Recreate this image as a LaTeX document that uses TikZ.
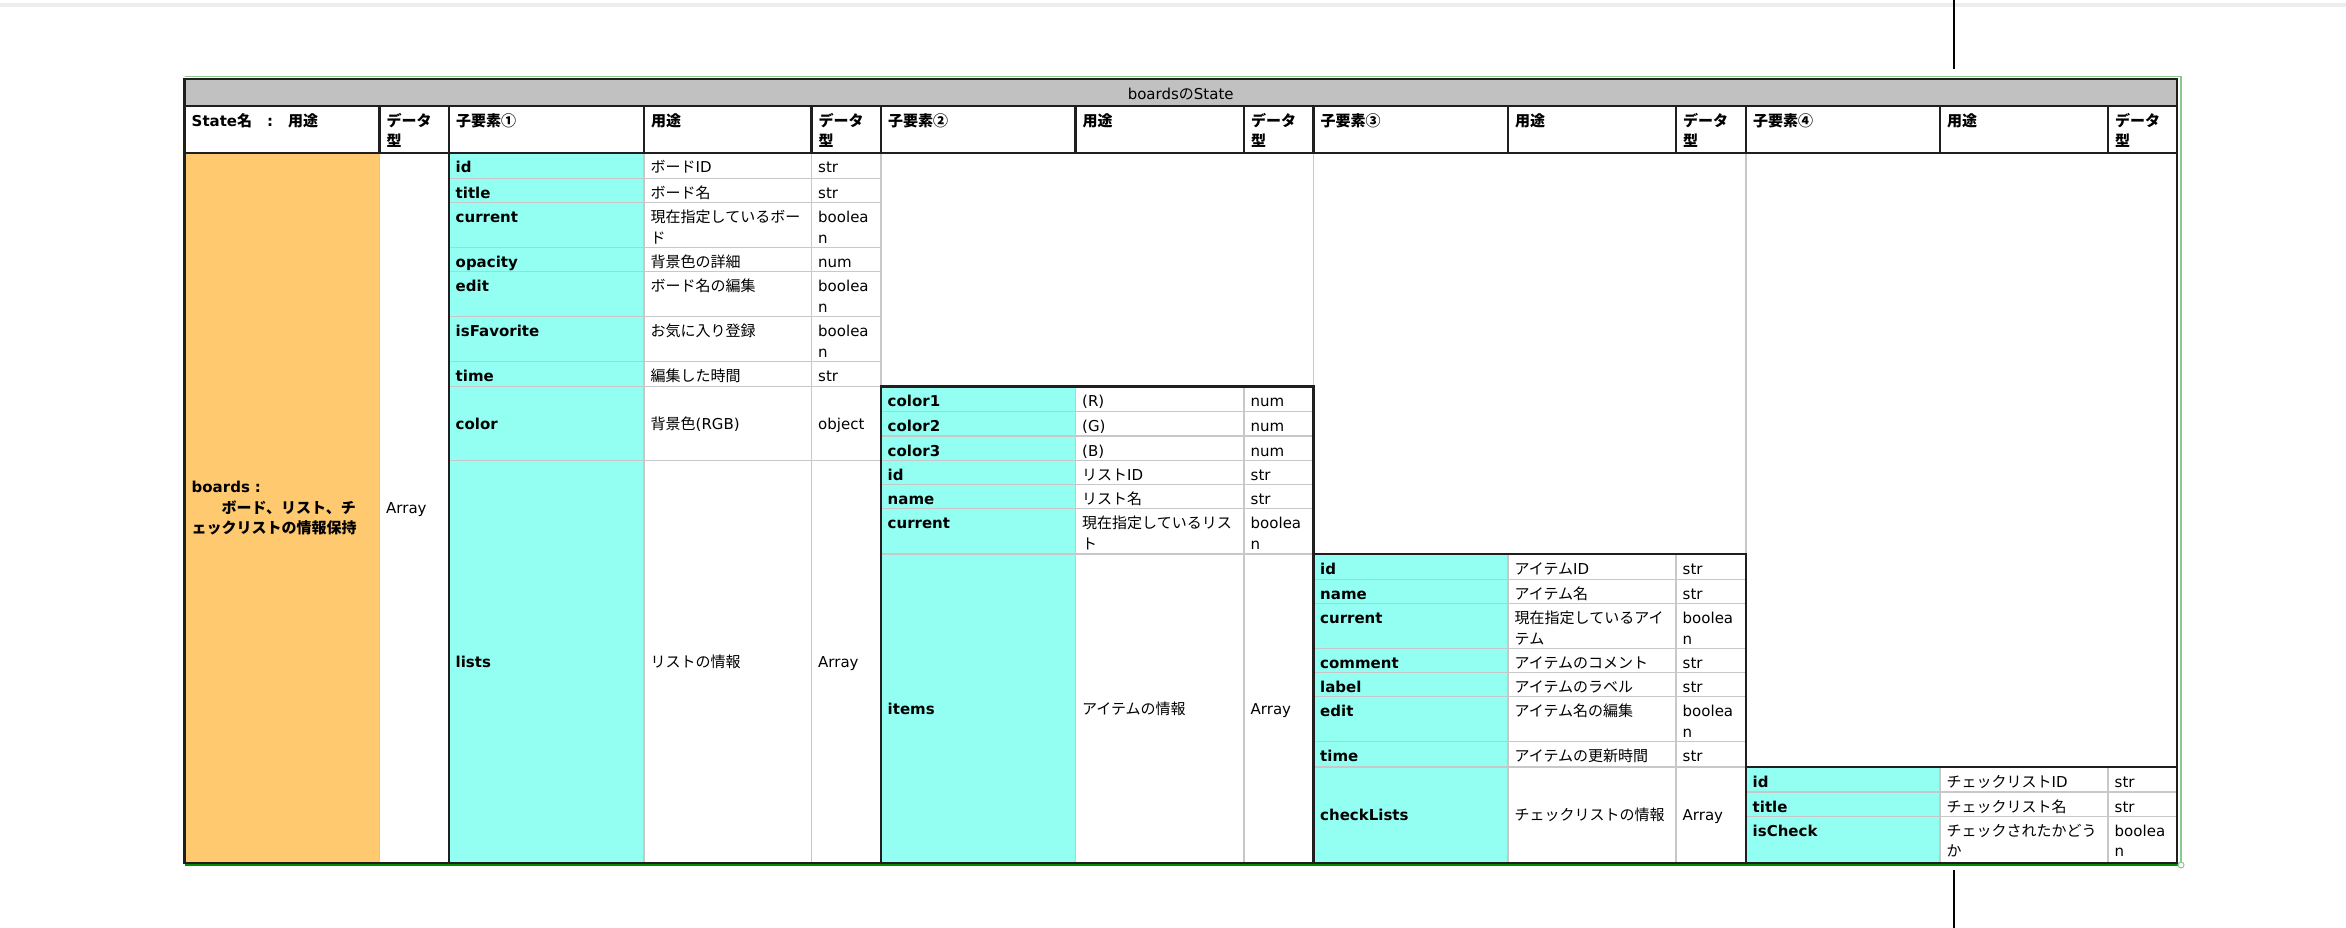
\documentclass[tikz,border=0pt]{standalone}
\usepackage{fontspec}
\setmainfont{DejaVu Sans}
\newfontfamily\jpfont{Noto Sans CJK JP}
% Japanese characters are set in the CJK font, the rest in DejaVu Sans
\newXeTeXintercharclass\jpclass
\newcount\jpcode
\newcommand\jprange[2]{%
  \jpcode=#1\relax
  \loop
    \XeTeXcharclass\jpcode=\jpclass
  \ifnum\jpcode<#2\relax
    \advance\jpcode by 1
  \repeat}
\jprange{"2460}{"24FF}
\jprange{"3000}{"30FF}
\jprange{"4E00}{"9FFF}
\jprange{"FF00}{"FFEF}
\XeTeXinterchartoks 0 \jpclass = {\jpfont}
\XeTeXinterchartoks 4095 \jpclass = {\jpfont}
\XeTeXinterchartoks \jpclass 0 = {\rmfamily}
\XeTeXinterchartoks \jpclass 4095 = {\rmfamily}
\XeTeXinterchartokenstate=1

\definecolor{headgray}{HTML}{C0C1C0}
\definecolor{boardorange}{HTML}{FFC970}
\definecolor{keycyan}{HTML}{93FFF2}
\definecolor{cellline}{HTML}{C8C8C8}
\definecolor{selgreen}{HTML}{8CC88C}
\newcommand\cellstrut{\rule[-3pt]{0pt}{20.3pt}}

\begin{document}
\begin{tikzpicture}[x=1pt, y=-1pt,
    every node/.style={inner sep=0pt, text width=185pt, align=left,
      font=\fontsize{15}{20.3}\selectfont,
      execute at begin node={\baselineskip=20.3pt\lineskip=0pt\cellstrut},
      execute at end node=\cellstrut},
    cell/.style={anchor=north west},
    key/.style={cell, font=\fontsize{15}{20.3}\selectfont\bfseries},
    head/.style={anchor=north west, font=\fontsize{15}{20.3}\selectfont\bfseries},
    thin line/.style={draw=cellline, line width=1.1pt},
    thick line/.style={draw=black!88, line width=2.2pt}]
  \useasboundingbox (0,0) rectangle (2346,928);
  \draw[black!7, line width=4pt] (0,5) -- (2346,5);
  \draw[black, line width=2pt] (1954,0) -- (1954,69);
  \draw[black, line width=2pt] (1954,870) -- (1954,928);

  % fills
  \fill[headgray] (184.5,79.3) rectangle (2177,106);
  \fill[boardorange] (184.5,152.7) rectangle (379.5,862.7);
  \fill[keycyan] (449,152.7) rectangle (644,862.7);
  \fill[keycyan] (881,386.5) rectangle (1075.5,862.7);
  \fill[keycyan] (1313.5,554) rectangle (1508,862.7);
  \fill[keycyan] (1746,767) rectangle (1940,862.7);

  % selection frame
  \draw[selgreen, line width=1.5pt] (184.5,76.7) -- (2181,76.7) -- (2181,865);
  \draw[green!55!black, line width=1.3pt] (184.5,865) -- (2181,865);

  % thin column lines
  \draw[thin line] (379.5,152.7) -- (379.5,862.7);
  \draw[thin line] (644,152.7) -- (644,862.7);
  \draw[thin line] (811.5,152.7) -- (811.5,862.7);
  \draw[thin line] (881,152.7) -- (881,386.5);
  \draw[thin line] (1075.5,386.5) -- (1075.5,862.7);
  \draw[thin line] (1244,386.5) -- (1244,862.7);
  \draw[thin line] (1313.5,152.7) -- (1313.5,554);
  \draw[thin line] (1508,554) -- (1508,862.7);
  \draw[thin line] (1676,554) -- (1676,862.7);
  \draw[thin line] (1746,152.7) -- (1746,767);
  \draw[thin line] (1940,767) -- (1940,862.7);
  \draw[thin line] (2108,767) -- (2108,862.7);

  \node[anchor=north, align=center] (title) at (1180.7,81.7) {boardsのState};
  \foreach \hx/\htext [count=\i] in {191.5/State名　:　用途, 386.5/データ\\型,
      456/子要素①, 651/用途, 818.5/データ\\型, 888/子要素②, 1082.5/用途, 1251/データ\\型,
      1320.5/子要素③, 1515/用途, 1683/データ\\型, 1753/子要素④, 1947/用途, 2115/データ\\型}
    \node[head] (head-\i) at (\hx,108.6) {\htext};

  \node[key] (board-name) at (191.5,475.4) {boards :\\　　ボード、リスト、チ\\ェックリストの情報保持};
  \node[cell] (board-type) at (386,496.1) {Array};

  % children 1
  \foreach \kname/\kuse/\ktype/\rbot [count=\i, remember=\rbot as \rtop (initially 152.7)] in {
      id/ボードID/str/178.3, title/ボード名/str/202.7,
      current/現在指定しているボー\\ド/boolea\\n/247.3, opacity/背景色の詳細/num/271.7,
      edit/ボード名の編集/boolea\\n/316.7, isFavorite/お気に入り登録/boolea\\n/361.7,
      time/編集した時間/str/386.5, color/背景色(RGB)/object/460.5, lists/リストの情報/Array/862.7} {
    \pgfmathsetmacro\ny{(\rbot-\rtop>50) ? (\rtop+\rbot)/2-11.6 : \rtop+2.6}
    \draw[thin line] (449,\rbot) -- (881,\rbot);
    \node[key] (one-key-\i) at (455.5,\ny) {\kname};
    \node[cell] (one-use-\i) at (650.5,\ny) {\kuse};
    \node[cell] (one-type-\i) at (818,\ny) {\ktype};
  }
  % children 2
  \foreach \kname/\kuse/\ktype/\rbot [count=\i, remember=\rbot as \rtop (initially 386.5)] in {
      color1/(R)/num/411.7, color2/(G)/num/436, color3/(B)/num/460.5,
      id/リストID/str/484.3, name/リスト名/str/508.7,
      current/現在指定しているリス\\ト/boolea\\n/554, items/アイテムの情報/Array/862.7} {
    \pgfmathsetmacro\ny{(\rbot-\rtop>50) ? (\rtop+\rbot)/2-11.6 : \rtop+2.6}
    \draw[thin line] (881,\rbot) -- (1313.5,\rbot);
    \node[key] (two-key-\i) at (887.5,\ny) {\kname};
    \node[cell] (two-use-\i) at (1082,\ny) {\kuse};
    \node[cell] (two-type-\i) at (1250.5,\ny) {\ktype};
  }
  % children 3
  \foreach \kname/\kuse/\ktype/\rbot [count=\i, remember=\rbot as \rtop (initially 554)] in {
      id/アイテムID/str/579.3, name/アイテム名/str/603.7,
      current/現在指定しているアイ\\テム/boolea\\n/648.3, comment/アイテムのコメント/str/672.7,
      label/アイテムのラベル/str/696.7, edit/アイテム名の編集/boolea\\n/741.7,
      time/アイテムの更新時間/str/767, checkLists/チェックリストの情報/Array/862.7} {
    \pgfmathsetmacro\ny{(\rbot-\rtop>50) ? (\rtop+\rbot)/2-11.6 : \rtop+2.6}
    \draw[thin line] (1313.5,\rbot) -- (1746,\rbot);
    \node[key] (three-key-\i) at (1320,\ny) {\kname};
    \node[cell] (three-use-\i) at (1514.5,\ny) {\kuse};
    \node[cell] (three-type-\i) at (1682.5,\ny) {\ktype};
  }
  % children 4
  \foreach \kname/\kuse/\ktype/\rbot [count=\i, remember=\rbot as \rtop (initially 767)] in {
      id/チェックリストID/str/792, title/チェックリスト名/str/816.3,
      isCheck/チェックされたかどう\\か/boolea\\n/862.7} {
    \pgfmathsetmacro\ny{(\rbot-\rtop>50) ? (\rtop+\rbot)/2-11.6 : \rtop+2.6}
    \draw[thin line] (1746,\rbot) -- (2177,\rbot);
    \node[key] (four-key-\i) at (1752.5,\ny) {\kname};
    \node[cell] (four-use-\i) at (1946.5,\ny) {\kuse};
    \node[cell] (four-type-\i) at (2114.5,\ny) {\ktype};
  }

  % thick frame lines
  \draw[thick line] (184.5,79.3) rectangle (2177,862.7);
  \draw[thick line] (184.5,106) -- (2177,106);
  \draw[thick line] (184.5,152.7) -- (2177,152.7);
  \foreach \hx in {379.5,449,644,811.5,881,1075.5,1244,1313.5,1508,1676,1746,1940,2108}
    \draw[thick line] (\hx,106) -- (\hx,152.7);
  \draw[thick line] (449,152.7) -- (449,862.7);
  \draw[thick line] (881,862.7) -- (881,386.5) -- (1313.5,386.5) -- (1313.5,862.7);
  \draw[thick line] (1313.5,554) -- (1746,554) -- (1746,862.7);
  \draw[thick line] (1746,767) -- (2177,767);
  \draw[selgreen, fill=white, line width=1pt] (2181,865) circle (3);
\end{tikzpicture}
\end{document}
